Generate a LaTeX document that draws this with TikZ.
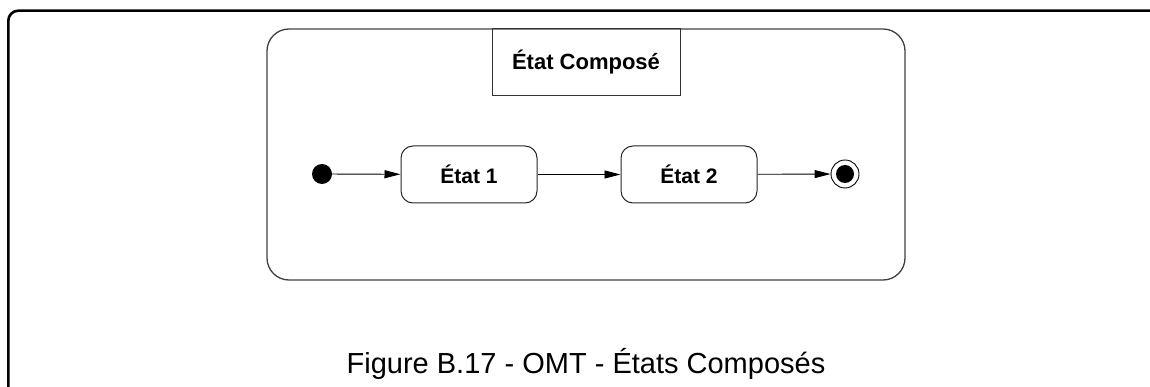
\documentclass[tikz,border=0pt]{standalone}
\usepackage{fontspec}
\setmainfont{Liberation Sans}
\usetikzlibrary{arrows.meta}
\begin{document}
\begin{tikzpicture}[x=1pt,y=-1pt,
  statebox/.style={draw=black!85, line width=1pt, rounded corners=12pt, minimum width=136pt, minimum height=57pt, inner sep=0pt, font=\fontsize{21}{25}\selectfont\bfseries},
  trans/.style={draw=black, line width=0.9pt, -{Triangle[length=16pt,width=8pt]}},
  composite/.style={draw=black!75, line width=1.3pt, rounded corners=22pt, minimum width=638pt, minimum height=251pt, inner sep=0pt},
  titlebox/.style={draw=black!80, line width=1pt, minimum width=188pt, minimum height=67pt, inner sep=0pt, font=\fontsize{22}{26}\selectfont\bfseries},
  frame/.style={draw=black, line width=2.6pt, rounded corners=10pt},
  caption/.style={font=\fontsize{29}{34}\selectfont, inner sep=0pt, anchor=base}
]
\useasboundingbox (0,0) rectangle (1150,387);
\draw[frame] (8.3,390) |- (1152,10.7);
\node[composite] (comp) at (586,154.5) {};
\node[titlebox] (title) at (586,62.5) {État Composé};
\node[circle, fill=black, minimum size=20pt, inner sep=0pt] (init) at (322,174) {};
\node[statebox] (s1) at (469,174.5) {État 1};
\node[statebox] (s2) at (689,174.5) {État 2};
\node[circle, draw=black, line width=0.9pt, minimum size=28pt, inner sep=0pt] (fin) at (845,174) {};
\node[circle, fill=black, minimum size=18pt, inner sep=0pt] (finin) at (845,174) {};
\draw[trans] (init) -- (s1);
\draw[trans] (s1) -- (s2);
\draw[trans] (s2) -- (fin);
\node[caption] (cap) at (586,373) {Figure B.17 - OMT - États Composés};
\end{tikzpicture}
\end{document}
